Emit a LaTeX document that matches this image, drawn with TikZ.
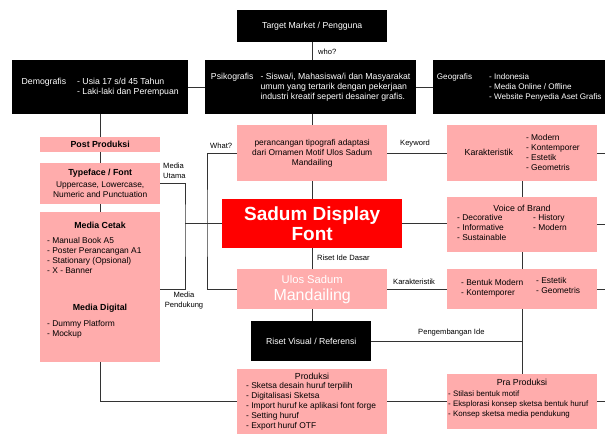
\documentclass[tikz,border=0pt]{standalone}
\usepackage{fontspec}
\setmainfont{Liberation Sans}
\definecolor{boxpink}{HTML}{FFACAC}
\definecolor{titlered}{HTML}{FF0000}
\tikzset{
  blackbox/.style={fill=black,text=white,anchor=north west,inner sep=0pt,align=center,font=\fontsize{8.7}{10}\selectfont},
  pinkbox/.style={fill=boxpink,text=black,anchor=north west,inner sep=0pt,align=center,font=\fontsize{8.4}{10}\selectfont},
  txt/.style={inner sep=0pt,align=left,font=\fontsize{8.4}{10}\selectfont},
  head/.style={inner sep=0pt,font=\fontsize{8.8}{10}\selectfont\bfseries},
  lbl/.style={inner sep=0pt,align=center,font=\fontsize{7.6}{10}\selectfont},
  link/.style={draw=black!80,line width=0.8pt}
}

\begin{document}
\begin{tikzpicture}[x=1pt,y=-1pt]
\path[use as bounding box] (0,0) rectangle (605,435);
\coordinate (edge) at (605,0);
% target market
\node[blackbox,minimum width=150,minimum height=32] (target) at (237,10) {Target Market / Pengguna};
\node[blackbox,minimum width=176,minimum height=54] (demo) at (12,60) {\begin{tabular}{@{}l@{\hspace{11pt}}l@{}}Demografis & - Usia 17 s/d 45 Tahun\\ & - Laki-laki dan Perempuan\end{tabular}};
\node[blackbox,minimum width=211,minimum height=54] (psiko) at (205,60) {\begin{tabular}{@{}l@{\hspace{7pt}}l@{}}Psikografis & - Siswa/i, Mahasiswa/i dan Masyarakat\\ & umum yang tertarik dengan pekerjaan\\ & industri kreatif seperti desainer grafis.\end{tabular}};
\node[blackbox,minimum width=172,minimum height=54,font=\fontsize{8.1}{10}\selectfont] (geo) at (433,60) {\begin{tabular}{@{}l@{\hspace{17pt}}l@{}}Geografis & - Indonesia\\ & - Media Online / Offline\\ & - Website Penyedia Aset Grafis\end{tabular}};
% left column
\node[pinkbox,minimum width=120,minimum height=15,font=\fontsize{8.8}{10}\selectfont\bfseries] (post) at (40,137) {Post Produksi};
\node[pinkbox,minimum width=120,minimum height=41] (typeface) at (40,163) {{\bfseries\fontsize{8.8}{10}\selectfont Typeface / Font}\\[2pt]Uppercase, Lowercase,\\Numeric and Punctuation};
\node[pinkbox,minimum width=120,minimum height=150] (media) at (40,212) {};
\node[head] (cetak) at (100,225) {Media Cetak};
\node[txt,anchor=north west] (cetaklist) at (47,237) {- Manual Book A5\\- Poster Perancangan A1\\- Stationary (Opsional)\\- X - Banner};
\node[head] (digital) at (100,308) {Media Digital};
\node[txt,anchor=north west] (digitallist) at (47,320) {- Dummy Platform\\- Mockup};
% center column
\node[pinkbox,minimum width=150,minimum height=56] (rancang) at (237,125) {perancangan tipografi adaptasi\\dari Ornamen Motif Ulos Sadum\\Mandailing};
\node[fill=titlered,text=white,anchor=north west,inner sep=0pt,align=center,minimum width=180,minimum height=49,font=\fontsize{19}{20}\selectfont\bfseries] (sadum) at (222,199) {Sadum Display\\Font};
\node[pinkbox,text=white,minimum width=150,minimum height=40,font=\fontsize{11.2}{13}\selectfont] (ulos) at (237,269) {Ulos Sadum\\[4pt]{\fontsize{16}{16}\selectfont Mandailing}};
\node[blackbox,minimum width=120,minimum height=40] (riset) at (251,321) {Riset Visual / Referensi};
\node[pinkbox,minimum width=150,minimum height=65] (produksi) at (237,369) {};
\node[inner sep=0pt,font=\fontsize{8.8}{10}\selectfont] (produksihead) at (312,376) {Produksi};
\node[txt,anchor=north west] (produksilist) at (246,382) {- Sketsa desain huruf terpilih\\- Digitalisasi Sketsa\\- Import huruf ke aplikasi font forge\\- Setting huruf\\- Export huruf OTF};
% right column
\node[pinkbox,minimum width=150,minimum height=56] (karak) at (447,125) {\begin{tabular}{@{}l@{\hspace{13pt}}l@{}}{\fontsize{8.8}{10}\selectfont Karakteristik} & \begin{tabular}{@{}l@{}}- Modern\\- Kontemporer\\- Estetik\\- Geometris\end{tabular}\end{tabular}};
\node[pinkbox,minimum width=150,minimum height=55] (voice) at (447,197) {};
\node[inner sep=0pt,font=\fontsize{8.8}{10}\selectfont] (voicehead) at (522,208) {Voice of Brand};
\node[txt,anchor=north west] (voiceleft) at (457,214) {- Decorative\\- Informative\\- Sustainable};
\node[txt,anchor=north west] (voiceright) at (533,214) {- History\\- Modern};
\node[pinkbox,minimum width=150,minimum height=40] (bentuk) at (447,269) {};
\node[txt,anchor=north west] (bentukleft) at (461,279) {- Bentuk Modern\\- Kontemporer};
\node[txt,anchor=north west] (bentukright) at (536,277) {- Estetik\\- Geometris};
\node[pinkbox,minimum width=150,minimum height=55] (pra) at (447,374) {};
\node[inner sep=0pt,font=\fontsize{8.8}{10}\selectfont] (prahead) at (522,382) {Pra Produksi};
\node[txt,anchor=north west,font=\fontsize{7.9}{9.6}\selectfont] (pralist) at (448,391) {- Stilasi bentuk motif\\- Eksplorasi konsep sketsa bentuk huruf\\- Konsep sketsa media pendukung};
% connectors
\coordinate (mj) at (185,225);
\coordinate (wx) at (207,225);
\draw[link] (target.south) -- (target.south |- psiko.north);
\draw[link] (demo.east) -- (psiko.west);
\draw[link] (psiko.east) -- (geo.west);
\draw[link] (demo.south) -- (post.north);
\draw[link] (post.south) -- (typeface.north);
\draw[link] (typeface.south) -- (media.north);
\draw[link] (psiko.south -| rancang.north) -- (rancang.north);
\draw[link] (rancang.south) -- (sadum.north);
\draw[link] (sadum.south) -- (ulos.north);
\draw[link] (ulos.south) -- (ulos.south |- riset.north);
\draw[link] (typeface.east) -| (mj) |- (media.east |- ulos.west);
\draw[link] (sadum.west -| mj) -- (sadum.west);
\draw[link] (rancang.west) -| (wx) |- (ulos.west);
\draw[link] (rancang.east) -- (karak.west);
\draw[link] (sadum.east) -- (sadum.east -| voice.west);
\draw[link] (ulos.east) -- (bentuk.west);
\draw[link] (karak.south) -- (voice.north);
\draw[link] (voice.south) -- (bentuk.north);
\draw[link] (bentuk.south) -- (pra.north);
\draw[link] (riset.east) -- (riset.east -| pra.north);
\draw[link] (media.south) |- (produksi.west);
\draw[link] (produksi.east) -- (produksi.east -| pra.west);
\draw[link] (karak.east) -- (karak.east -| edge);
\draw[link] (voice.east) -- (voice.east -| edge);
\draw[link] (bentuk.east) -- (bentuk.east -| edge);
\draw[link] (pra.east) -- (pra.east -| edge);
% labels
\node[lbl,anchor=west] (who) at (318,52) {who?};
\node[lbl,anchor=west] (what) at (210,146) {What?};
\node[lbl,anchor=west] (keyword) at (400,144) {Keyword};
\node[lbl,anchor=north west,align=left] (utama) at (163,163) {Media\\Utama};
\node[lbl,anchor=north] (pendukung) at (184,292) {Media\\Pendukung};
\node[lbl,anchor=west] (ide) at (317,258) {Riset Ide Dasar};
\node[lbl,anchor=west] (karaklbl) at (393,282) {Karakteristik};
\node[lbl,anchor=west] (kembang) at (418,333) {Pengembangan Ide};
\end{tikzpicture}
\end{document}
